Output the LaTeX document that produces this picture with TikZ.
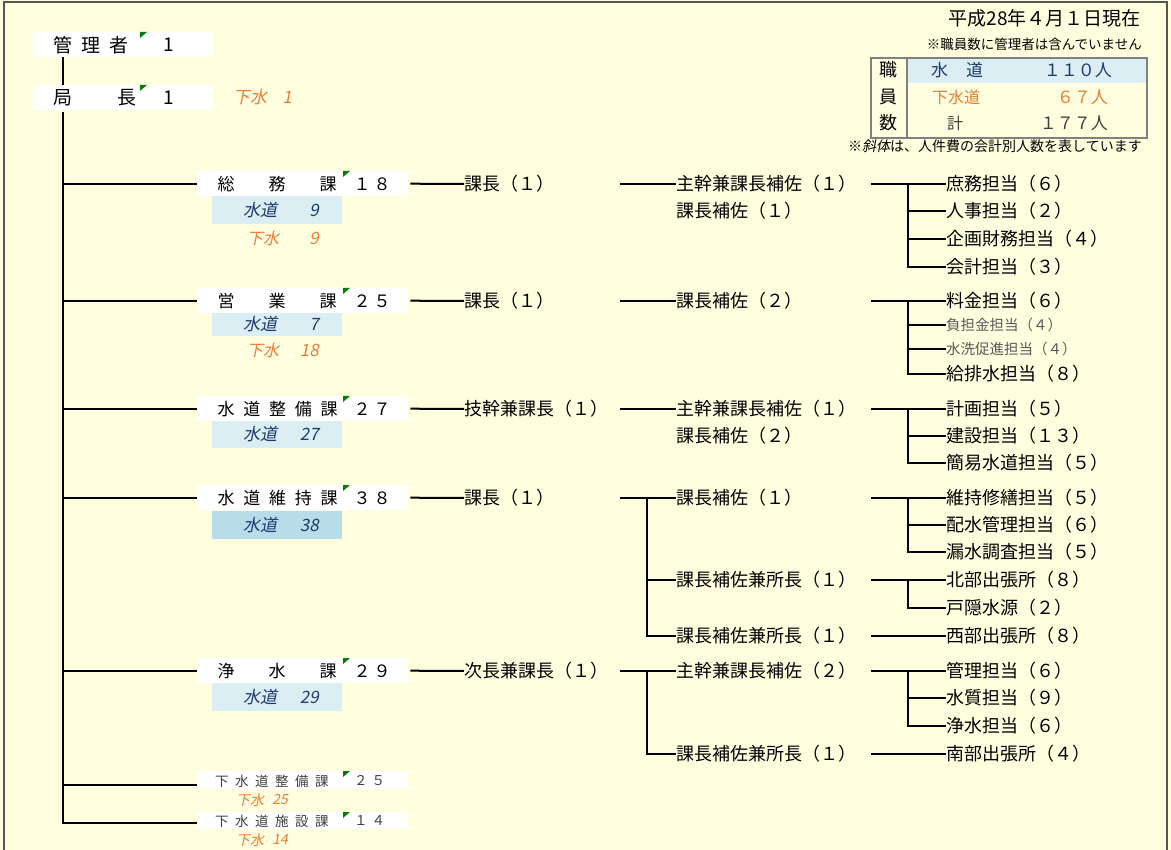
\documentclass[tikz,border=0pt]{standalone}
\usepackage{fontspec}
\setmainfont{Noto Sans CJK JP}
\newfontfamily\jpit[FakeSlant=0.2]{Noto Sans CJK JP}
\definecolor{bg}{HTML}{FFFFE0}
\definecolor{framec}{HTML}{555555}
\definecolor{lblue}{HTML}{DAEEF3}
\definecolor{mblue}{HTML}{B7DEE8}
\definecolor{dblue}{HTML}{1F3A70}
\definecolor{orng}{HTML}{ED7D31}
\definecolor{gmark}{HTML}{008000}
\definecolor{gtext}{HTML}{595959}
\definecolor{tgray}{HTML}{808080}
\newcommand\fsz[1]{\fontsize{#1}{#1}\selectfont}
\newcommand\greenmark[2]{\fill[gmark] (#1,#2) -- ++(7,0) -- ++(-7,6) -- cycle;}
\tikzset{
 lbl/.style={inner sep=0pt, anchor=west, font=\fsz{18}, text=black},
 slbl/.style={inner sep=0pt, anchor=west, font=\fsz{14.5}, text=gtext},
 dname/.style={inner sep=0pt, anchor=west, font=\fsz{17}, text=black},
 sname/.style={inner sep=0pt, anchor=west, font=\fsz{13.5}, text=black!75},
 itl/.style={inner sep=0pt, anchor=west, font=\jpit\fsz{17}},
 sitl/.style={inner sep=0pt, anchor=west, font=\jpit\fsz{14}, text=orng},
 wbox/.style={fill=white, draw=none, inner sep=0pt, anchor=north west},
 ln/.style={line width=2pt, draw=black},
}
\begin{document}
\begin{tikzpicture}[x=1pt,y=-1pt]
\useasboundingbox (0,0) rectangle (1171,850);
\fill[bg] (0,0) rectangle (1171,850);
\draw[framec, line width=1.5pt] (4,850) -- (4,2) -- (1167,2) -- (1167,850);

% ---- title / table
\node[inner sep=0pt, anchor=east, font=\fsz{19}] (title) at (1141,18) {平成28年４月１日現在};
\node[inner sep=0pt, anchor=east, font=\fsz{13.5}] (note1) at (1142,44) {※職員数に管理者は含んでいません};
\node[fill=lblue, minimum width=239pt, minimum height=26pt, inner sep=0pt, anchor=north west] (tr1) at (907,57) {};
\node[draw=tgray, line width=2pt, minimum width=276pt, minimum height=80pt, inner sep=0pt, anchor=north west] (tab) at (870,57) {};
\draw[tgray, line width=1.5pt] ([xshift=37pt]tab.north west) -- ([xshift=37pt]tab.south west);
\node[inner sep=0pt, font=\fsz{18}] (tk1) at (888,70) {職};
\node[inner sep=0pt, font=\fsz{18}] (tk2) at (888,97) {員};
\node[inner sep=0pt, font=\fsz{18}] (tk3) at (888,123) {数};
\node[inner sep=0pt, anchor=west, font=\fsz{17}, text=dblue] (tw1) at (931,70) {水\hspace{18pt}道};
\node[inner sep=0pt, anchor=east, font=\fsz{17}, text=dblue] (tw2) at (1112,70) {１１０人};
\node[inner sep=0pt, anchor=west, font=\fsz{16}, text=orng] (ts1) at (932,97) {下水道};
\node[inner sep=0pt, anchor=east, font=\fsz{17}, text=orng] (ts2) at (1108,97) {６７人};
\node[inner sep=0pt, font=\fsz{16}, text=black!75] (tt1) at (955,123) {計};
\node[inner sep=0pt, anchor=east, font=\fsz{17}, text=black!75] (tt2) at (1108,123) {１７７人};
\node[inner sep=0pt, anchor=east, font=\fsz{14}] (note2) at (1142,146) {※{\jpit 斜体}は、人件費の会計別人数を表しています};

% ---- manager / director
\node[wbox, minimum width=179pt, minimum height=25pt] (mgr) at (33,32) {};
\node[lbl, font=\fsz{19}] (mgrt) at (53,45) {管\hspace{9pt}理\hspace{9pt}者};
\node[lbl, font=\fsz{19}] (mgrn) at (163,45) {1};
\greenmark{140}{32}
\node[wbox, minimum width=179pt, minimum height=25pt] (kyk) at (33,85) {};
\node[lbl, font=\fsz{19}] (kykt) at (53,98) {局\hspace{45pt}長};
\node[lbl, font=\fsz{19}] (kykn) at (163,98) {1};
\greenmark{140}{85}
\node[itl, text=orng] (kyko) at (233,97) {下水};
\node[itl, text=orng, anchor=east] (kykon) at (292,97) {1};
\draw[ln] ([xshift=30pt]mgr.south west) -- ([xshift=30pt]kyk.north west);
\coordinate (trunk) at ([xshift=30pt,yshift=-2pt]kyk.south west);

% ---- dept boxes
\node[wbox, minimum width=211pt, minimum height=25pt] (d1) at (197,171) {};
\node[wbox, minimum width=211pt, minimum height=25pt] (d2) at (197,288) {};
\node[wbox, minimum width=211pt, minimum height=25pt] (d3) at (197,396) {};
\node[wbox, minimum width=211pt, minimum height=25pt] (d4) at (197,485) {};
\node[wbox, minimum width=211pt, minimum height=25pt] (d5) at (197,658) {};
\node[wbox, minimum width=211pt, minimum height=18pt] (d6) at (197,771) {};
\node[wbox, minimum width=211pt, minimum height=17pt] (d7) at (197,812) {};
\greenmark{343}{171}\greenmark{343}{288}\greenmark{343}{396}\greenmark{343}{485}\greenmark{343}{658}
\greenmark{343}{771}\greenmark{343}{812}

\node[dname] (d1t) at (217.5,184) {総\hspace{34pt}務\hspace{34pt}課};
\node[dname] (d1n) at (353.5,184) {１\hspace{3pt}８};
\node[dname] (d2t) at (217.5,301) {営\hspace{34pt}業\hspace{34pt}課};
\node[dname] (d2n) at (353.5,301) {２\hspace{3pt}５};
\node[dname] (d3t) at (217.5,409) {水\hspace{8.7pt}道\hspace{8.7pt}整\hspace{8.7pt}備\hspace{8.7pt}課};
\node[dname] (d3n) at (353.5,409) {２\hspace{3pt}７};
\node[dname] (d4t) at (217.5,498) {水\hspace{8.7pt}道\hspace{8.7pt}維\hspace{8.7pt}持\hspace{8.7pt}課};
\node[dname] (d4n) at (353.5,498) {３\hspace{3pt}８};
\node[dname] (d5t) at (217.5,671) {浄\hspace{34pt}水\hspace{34pt}課};
\node[dname] (d5n) at (353.5,671) {２\hspace{3pt}９};
\node[sname] (d6t) at (215,781) {下\hspace{6.5pt}水\hspace{6.5pt}道\hspace{6.5pt}整\hspace{6.5pt}備\hspace{6.5pt}課};
\node[sname] (d6n) at (354,781) {２\hspace{4pt}５};
\node[sname] (d7t) at (215,821) {下\hspace{6.5pt}水\hspace{6.5pt}道\hspace{6.5pt}施\hspace{6.5pt}設\hspace{6.5pt}課};
\node[sname] (d7n) at (354,821) {１\hspace{4pt}４};

% sub-boxes (accounts)
\node[wbox, fill=lblue, minimum width=130pt, minimum height=28pt] (b1) at (212,196) {};
\node[itl, text=dblue] (b1t) at (243,210) {水道};
\node[itl, text=dblue, anchor=east] (b1n) at (319,210) {9};
\node[itl, text=orng, font=\jpit\fsz{16}] (o1t) at (247,238) {下水};
\node[itl, text=orng, anchor=east] (o1n) at (319,238) {9};
\node[wbox, fill=lblue, minimum width=130pt, minimum height=23pt] (b2) at (212,313) {};
\node[itl, text=dblue] (b2t) at (243,324.5) {水道};
\node[itl, text=dblue, anchor=east] (b2n) at (319,324.5) {7};
\node[itl, text=orng, font=\jpit\fsz{16}] (o2t) at (247,350) {下水};
\node[itl, text=orng, anchor=east] (o2n) at (319,350) {18};
\node[wbox, fill=lblue, minimum width=130pt, minimum height=27pt] (b3) at (212,421) {};
\node[itl, text=dblue] (b3t) at (243,434.5) {水道};
\node[itl, text=dblue, anchor=east] (b3n) at (319,434.5) {27};
\node[wbox, fill=mblue, minimum width=130pt, minimum height=28pt] (b4) at (212,511) {};
\node[itl, text=dblue] (b4t) at (243,525) {水道};
\node[itl, text=dblue, anchor=east] (b4n) at (319,525) {38};
\node[wbox, fill=lblue, minimum width=130pt, minimum height=28pt] (b5) at (212,683) {};
\node[itl, text=dblue] (b5t) at (243,697) {水道};
\node[itl, text=dblue, anchor=east] (b5n) at (319,697) {29};
\node[sitl] (o6t) at (236,800) {下水};
\node[sitl, anchor=east] (o6n) at (288,800) {25};
\node[sitl] (o7t) at (236,840) {下水};
\node[sitl, anchor=east] (o7n) at (288,840) {14};

% trunk and branches
\draw[ln] (trunk) |- ([yshift=-2.5pt]d7.west);
\foreach \d in {d1,d2,d3,d4,d5}{\draw[ln] (trunk |- \d.west) -- (\d.west);}
\coordinate (d6c) at ([yshift=-5pt]d6.west);
\draw[ln] (trunk |- d6c) -- (d6c);

% ---- column 2
\node[lbl] (c1) at (464,184) {課長（１）};
\node[lbl] (c2) at (464,301) {課長（１）};
\node[lbl] (c3) at (464,409) {技幹兼課長（１）};
\node[lbl] (c4) at (464,498) {課長（１）};
\node[lbl] (c5) at (464,671) {次長兼課長（１）};
\foreach \i in {1,...,5}{\draw[ln] ([xshift=2pt]d\i.east) -- (c\i.west);}

% ---- column 3
\node[lbl] (e11) at (676,184) {主幹兼課長補佐（１）};
\node[lbl] (e12) at (676,211) {課長補佐（１）};
\node[lbl] (e21) at (676,301) {課長補佐（２）};
\node[lbl] (e31) at (676,409) {主幹兼課長補佐（１）};
\node[lbl] (e32) at (676,436) {課長補佐（２）};
\node[lbl] (e41) at (676,498) {課長補佐（１）};
\node[lbl] (e42) at (676,580) {課長補佐兼所長（１）};
\node[lbl] (e43) at (676,636) {課長補佐兼所長（１）};
\node[lbl] (e51) at (676,671) {主幹兼課長補佐（２）};
\node[lbl] (e52) at (676,754) {課長補佐兼所長（１）};
\foreach \e in {e11,e21,e31,e41,e51}{\draw[ln] ([xshift=-56pt]\e.west) -- (\e.west);}
\draw[ln] ([xshift=-29pt]e41.west) |- (e43.west);
\draw[ln] ([xshift=-29pt]e42.west) -- (e42.west);
\draw[ln] ([xshift=-29pt]e51.west) |- (e52.west);

% ---- column 4
\node[lbl] (f11) at (946,184) {庶務担当（６）};
\node[lbl] (f12) at (946,211) {人事担当（２）};
\node[lbl] (f13) at (946,239) {企画財務担当（４）};
\node[lbl] (f14) at (946,267) {会計担当（３）};
\node[lbl] (f21) at (946,301) {料金担当（６）};
\node[slbl] (f22) at (946,325) {負担金担当（４）};
\node[slbl] (f23) at (946,349) {水洗促進担当（４）};
\node[lbl] (f24) at (946,374) {給排水担当（８）};
\node[lbl] (f31) at (946,409) {計画担当（５）};
\node[lbl] (f32) at (946,436) {建設担当（１３）};
\node[lbl] (f33) at (946,463) {簡易水道担当（５）};
\node[lbl] (f41) at (946,498) {維持修繕担当（５）};
\node[lbl] (f42) at (946,525) {配水管理担当（６）};
\node[lbl] (f43) at (946,552) {漏水調査担当（５）};
\node[lbl] (f44) at (946,580) {北部出張所（８）};
\node[lbl] (f45) at (946,608) {戸隠水源（２）};
\node[lbl] (f46) at (946,636) {西部出張所（８）};
\node[lbl] (f51) at (946,671) {管理担当（６）};
\node[lbl] (f52) at (946,698) {水質担当（９）};
\node[lbl] (f53) at (946,726) {浄水担当（６）};
\node[lbl] (f54) at (946,754) {南部出張所（４）};
\foreach \f in {f11,f21,f31,f41,f44,f46,f51,f54}{\draw[ln] ([xshift=-75pt]\f.west) -- (\f.west);}
\draw[ln] ([xshift=-38pt]f11.west) |- (f14.west);
\foreach \f in {f12,f13,f22,f23,f32,f42,f52}{\draw[ln] ([xshift=-38pt]\f.west) -- (\f.west);}
\draw[ln] ([xshift=-38pt]f21.west) |- (f24.west);
\draw[ln] ([xshift=-38pt]f31.west) |- (f33.west);
\draw[ln] ([xshift=-38pt]f41.west) |- (f43.west);
\draw[ln] ([xshift=-38pt]f44.west) |- (f45.west);
\draw[ln] ([xshift=-38pt]f51.west) |- (f53.west);
\end{tikzpicture}
\end{document}
